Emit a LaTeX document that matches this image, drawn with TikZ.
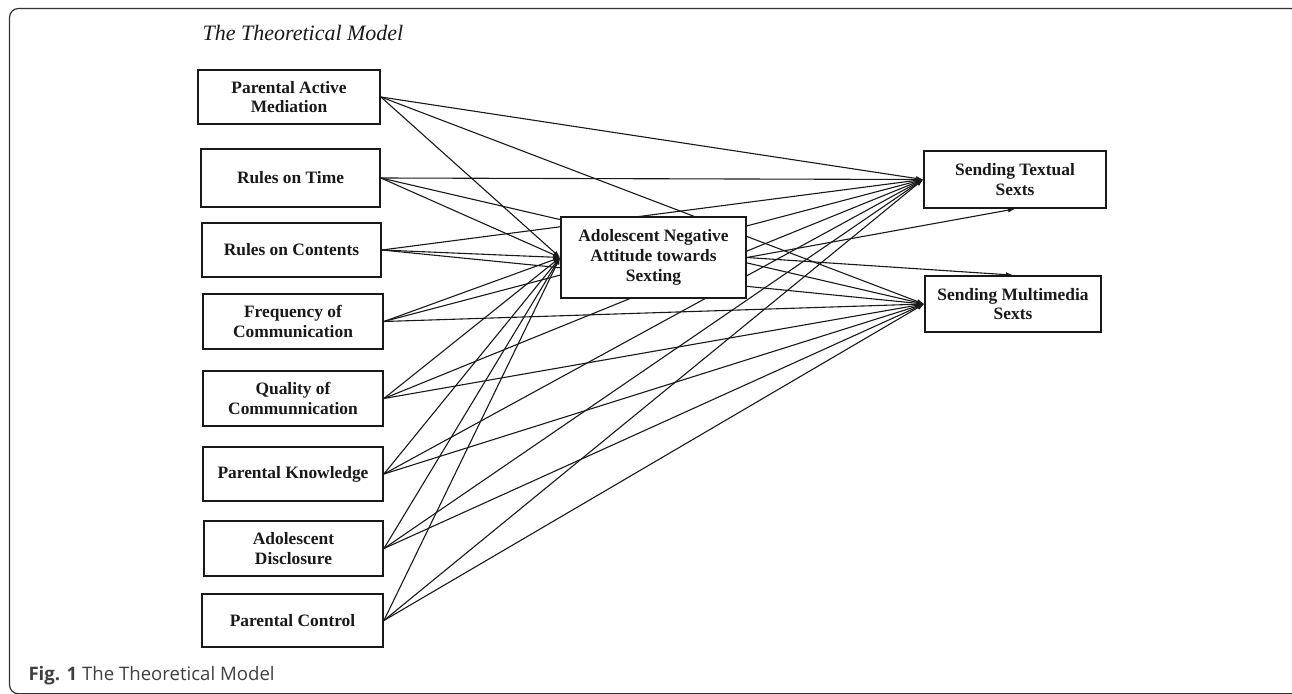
\documentclass[tikz,border=0pt]{standalone}
\usepackage{fontspec}
\setmainfont{Liberation Serif}
\newfontfamily\capfont{Open Sans}
\usetikzlibrary{arrows.meta,backgrounds}
\begin{document}
\begin{tikzpicture}[x=1pt,y=-1pt,
  box/.style={draw=black!90, line width=1.8pt, fill=white, align=center, inner sep=0pt,
    font=\fontsize{17.4}{19.8}\selectfont\bfseries, text=black!90},
  link/.style={line width=1.1pt, draw=black!90, -{Latex[length=7pt,width=5pt]}}]
\useasboundingbox (0,0) rectangle (1292,693);
\draw[line width=1.2pt, draw=black!80, rounded corners=9pt] (9.5,8.5) rectangle (1300,693.8);
\node[anchor=base west, font=\fontsize{22}{26}\selectfont\itshape, text=black!90] (title) at (199,41) {The Theoretical Model};
\node[anchor=base west, font=\capfont\fontsize{18.6}{22}\selectfont, text=black!75] (cap) at (25,680) {\textbf{Fig. 1} The Theoretical Model};

\node[box, minimum width=182pt, minimum height=54pt] (pam) at (289,97) {Parental Active\\Mediation};
\node[box, minimum width=179pt, minimum height=58pt] (rot) at (290.5,178) {Rules on Time};
\node[box, minimum width=179pt, minimum height=54pt] (roc) at (291.5,250) {Rules on Contents};
\node[box, minimum width=180pt, minimum height=55pt] (freq) at (293,321.5) {Frequency of\\Communication};
\node[box, minimum width=180pt, minimum height=55pt] (qual) at (293,398.5) {Quality of\\Communnication};
\node[box, minimum width=180pt, minimum height=54pt] (pk) at (293,474) {Parental Knowledge};
\node[box, minimum width=179pt, minimum height=55pt] (ad) at (293.5,548.5) {Adolescent\\Disclosure};
\node[box, minimum width=181pt, minimum height=53pt] (pc) at (292.5,620.5) {Parental Control};

\node[box, minimum width=185pt, minimum height=81pt] (att) at (653.5,257.5) {Adolescent Negative\\Attitude towards\\Sexting};
\node[box, minimum width=182pt, minimum height=57pt] (txt) at (1015,179.5) {Sending Textual\\Sexts};
\node[box, minimum width=176pt, minimum height=56pt] (mm) at (1013,304) {Sending Multimedia\\Sexts};

\begin{pgfonlayer}{background}
\foreach \s in {pam,rot,roc,freq,qual,pk,ad,pc}{
  \draw[link] (\s.east) -- (att.west);
  \draw[link] (\s.east) -- (txt.west);
  \draw[link] (\s.east) -- (mm.west);
}
\draw[link] (att.east) -- (txt.south);
\draw[link] (att.east) -- (mm.north);
\end{pgfonlayer}
\end{tikzpicture}
\end{document}
